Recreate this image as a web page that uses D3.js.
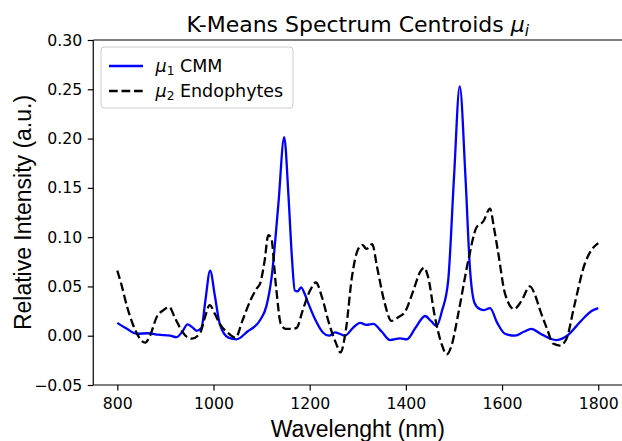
<!DOCTYPE html>
<html>
<head>
<meta charset="utf-8">
<script src="https://cdn.jsdelivr.net/npm/d3@7"></script>
<style>
  body { margin: 0; background: #fff; }
  svg { display: block; }
</style>
</head>
<body>
<div id="chart"></div>
<script>
const W = 622;
const H = 441;

// wavelength (nm) and intensity of centroid 1 (CMM)
const cmmNm = [800, 820, 840, 864, 885, 910, 923, 935, 946, 955, 965, 975, 983, 993, 1003, 1013, 1031, 1048, 1070, 1097,
  1110, 1121, 1135, 1147, 1156, 1163, 1169, 1175, 1182, 1190, 1197, 1210, 1228, 1240, 1253, 1262, 1273, 1290, 1305, 1318,
  1332, 1350, 1367, 1388, 1402, 1420, 1440, 1452, 1464, 1475, 1488, 1500, 1512, 1524, 1533, 1543, 1554, 1563, 1575, 1590,
  1606, 1627, 1645, 1661, 1680, 1700, 1713, 1738, 1755, 1772, 1786, 1800];
const cmmVal = [0.013, 0.007, 0.002, 0.0025, 0.001, 0.000, -0.0015, 0.004, 0.0115, 0.009, 0.005, 0.008, 0.035, 0.066, 0.040, 0.012, -0.002, -0.0037, 0.004, 0.016,
  0.030, 0.060, 0.134, 0.2015, 0.141, 0.080, 0.046, 0.045, 0.049, 0.042, 0.033, 0.018, 0.003, 0.000, 0.0034, 0.002, 0.000, 0.008, 0.013, 0.011,
  0.012, 0.004, -0.0044, -0.0027, -0.0037, 0.008, 0.020, 0.015, 0.010, 0.025, 0.056, 0.160, 0.253, 0.160, 0.070, 0.033, 0.027, 0.026, 0.028, 0.013,
  0.002, 0.000, 0.004, 0.007, 0.002, -0.003, -0.0045, 0.001, 0.010, 0.019, 0.025, 0.028];

// centroid 2 (Endophytes)
const endoNm = [800, 808, 820, 840, 850, 858, 868, 882, 896, 908, 920, 934, 947, 955, 972, 983, 992, 1003, 1013, 1030,
  1046, 1060, 1076, 1090, 1097, 1106, 1114, 1120, 1130, 1140, 1150, 1163, 1173, 1185, 1200, 1213, 1225, 1240, 1255, 1264,
  1275, 1288, 1300, 1310, 1318, 1330, 1340, 1355, 1370, 1385, 1398, 1415, 1430, 1438, 1446, 1460, 1474, 1485, 1495, 1510,
  1530, 1547, 1561, 1575, 1583, 1592, 1606, 1625, 1640, 1658, 1668, 1679, 1695, 1706, 1720, 1734, 1750, 1772, 1786, 1800];
const endoVal = [0.066, 0.053, 0.030, 0.003, -0.005, -0.007, 0.000, 0.019, 0.026, 0.029, 0.018, 0.005, -0.002, -0.003, 0.0025, 0.020, 0.031, 0.022, 0.012, 0.003,
  -0.002, 0.015, 0.035, 0.048, 0.053, 0.075, 0.102, 0.099, 0.050, 0.012, 0.007, 0.007, 0.008, 0.025, 0.045, 0.054, 0.040, 0.013, -0.008, -0.017,
  0.005, 0.060, 0.087, 0.092, 0.088, 0.093, 0.070, 0.035, 0.015, 0.019, 0.024, 0.045, 0.065, 0.069, 0.060, 0.020, -0.008, -0.019, -0.010, 0.025,
  0.077, 0.110, 0.116, 0.129, 0.110, 0.084, 0.043, 0.027, 0.035, 0.050, 0.042, 0.026, 0.005, -0.008, -0.010, -0.003, 0.030, 0.073, 0.087, 0.094];

const xTicks = [800, 1000, 1200, 1400, 1600, 1800];
const yTicks = [-0.05, 0.00, 0.05, 0.10, 0.15, 0.20, 0.25, 0.30];

const margin = {left: 93.25, right: 0, top: 40, bottom: 56};
const plotW = 622.3 - margin.left;
const plotH = H - margin.top - margin.bottom;

const svg = d3.select('#chart').append('svg')
  .attr('width', W)
  .attr('height', H);

const x = d3.scaleLinear().domain([750, 1850]).range([margin.left, margin.left + plotW]);
const y = d3.scaleLinear().domain([-0.05, 0.30]).range([margin.top + plotH, margin.top]);

const tickFont = 'DejaVu Sans, sans-serif';
const DASH = '8.7,3.8';
const LW = 2.3;

// axes
const xAxis = svg.append('g')
  .attr('transform', `translate(0,${margin.top + plotH})`)
  .call(d3.axisBottom(x).tickValues(xTicks).tickSize(5.5).tickPadding(7.3).tickFormat(d3.format('d')));
const yAxis = svg.append('g')
  .attr('transform', `translate(${margin.left},0)`)
  .call(d3.axisLeft(y).tickValues(yTicks).tickSize(5.5).tickPadding(5.5)
    .tickFormat(d => d3.format('.2f')(d).replace('-', '\u2212')));

[xAxis, yAxis].forEach(a => {
  a.select('.domain').remove();
  a.selectAll('line').attr('stroke', '#000').attr('stroke-width', 1.2);
  a.selectAll('text').attr('fill', '#000').style('font-family', tickFont).style('font-size', '15.7px');
});

// spines
svg.append('line').attr('x1', margin.left).attr('x2', margin.left)
  .attr('y1', margin.top).attr('y2', margin.top + plotH)
  .attr('stroke', '#000').attr('stroke-width', 1.2);
svg.append('line').attr('x1', margin.left).attr('x2', W)
  .attr('y1', margin.top + plotH).attr('y2', margin.top + plotH)
  .attr('stroke', '#000').attr('stroke-width', 1.2);
svg.append('line').attr('x1', margin.left).attr('x2', W)
  .attr('y1', margin.top).attr('y2', margin.top)
  .attr('stroke', '#000').attr('stroke-width', 1.2);

// lines
const line = d3.line()
  .x(d => x(d[0]))
  .y(d => y(d[1]))
  .curve(d3.curveMonotoneX);

svg.append('path')
  .datum(d3.zip(cmmNm, cmmVal))
  .attr('d', line)
  .attr('fill', 'none')
  .attr('stroke', '#0000ff')
  .attr('stroke-width', LW);

svg.append('path')
  .datum(d3.zip(endoNm, endoVal))
  .attr('d', line)
  .attr('fill', 'none')
  .attr('stroke', '#000')
  .attr('stroke-width', LW)
  .attr('stroke-dasharray', DASH);

// title
const title = svg.append('text')
  .attr('x', margin.left + plotW / 2)
  .attr('y', 32)
  .attr('text-anchor', 'middle')
  .style('font-family', tickFont)
  .style('font-size', '22px');
title.append('tspan').text('K-Means Spectrum Centroids ');
title.append('tspan').attr('font-style', 'italic').text('\u03bc');
title.append('tspan').attr('font-style', 'italic').attr('font-size', '15.4px').attr('dy', 4).text('i');

// axis labels
svg.append('text')
  .attr('x', margin.left + plotW / 2)
  .attr('y', 437)
  .attr('text-anchor', 'middle')
  .style('font-family', 'Liberation Sans, Arial, sans-serif')
  .style('font-size', '23px')
  .text('Wavelenght (nm)');

svg.append('text')
  .attr('transform', `translate(31,${margin.top + plotH / 2}) rotate(-90)`)
  .attr('text-anchor', 'middle')
  .style('font-family', 'Liberation Sans, Arial, sans-serif')
  .style('font-size', '23px')
  .text('Relative Intensity (a.u.)');

// legend
const legend = svg.append('g');
legend.append('rect')
  .attr('x', 101).attr('y', 47)
  .attr('width', 192).attr('height', 61)
  .attr('rx', 3)
  .attr('fill', '#fff').attr('fill-opacity', 0.8)
  .attr('stroke', '#ccc').attr('stroke-width', 1);

const entries = [
  {sub: '1', label: ' CMM', color: '#0000ff', dash: null},
  {sub: '2', label: ' Endophytes', color: '#000', dash: DASH}
];
entries.forEach((e, i) => {
  const cy = 66 + i * 25;
  legend.append('line')
    .attr('x1', 109).attr('x2', 143)
    .attr('y1', cy).attr('y2', cy)
    .attr('stroke', e.color).attr('stroke-width', LW)
    .attr('stroke-dasharray', e.dash);
  const t = legend.append('text')
    .attr('x', 155.5).attr('y', cy + 5.6)
    .style('font-family', tickFont)
    .style('font-size', '17.5px');
  t.append('tspan').attr('font-style', 'italic').text('\u03bc');
  t.append('tspan').attr('font-size', '12.2px').attr('dy', 3).text(e.sub);
  t.append('tspan').attr('dy', -3).text(e.label);
});
</script>
</body>
</html>
